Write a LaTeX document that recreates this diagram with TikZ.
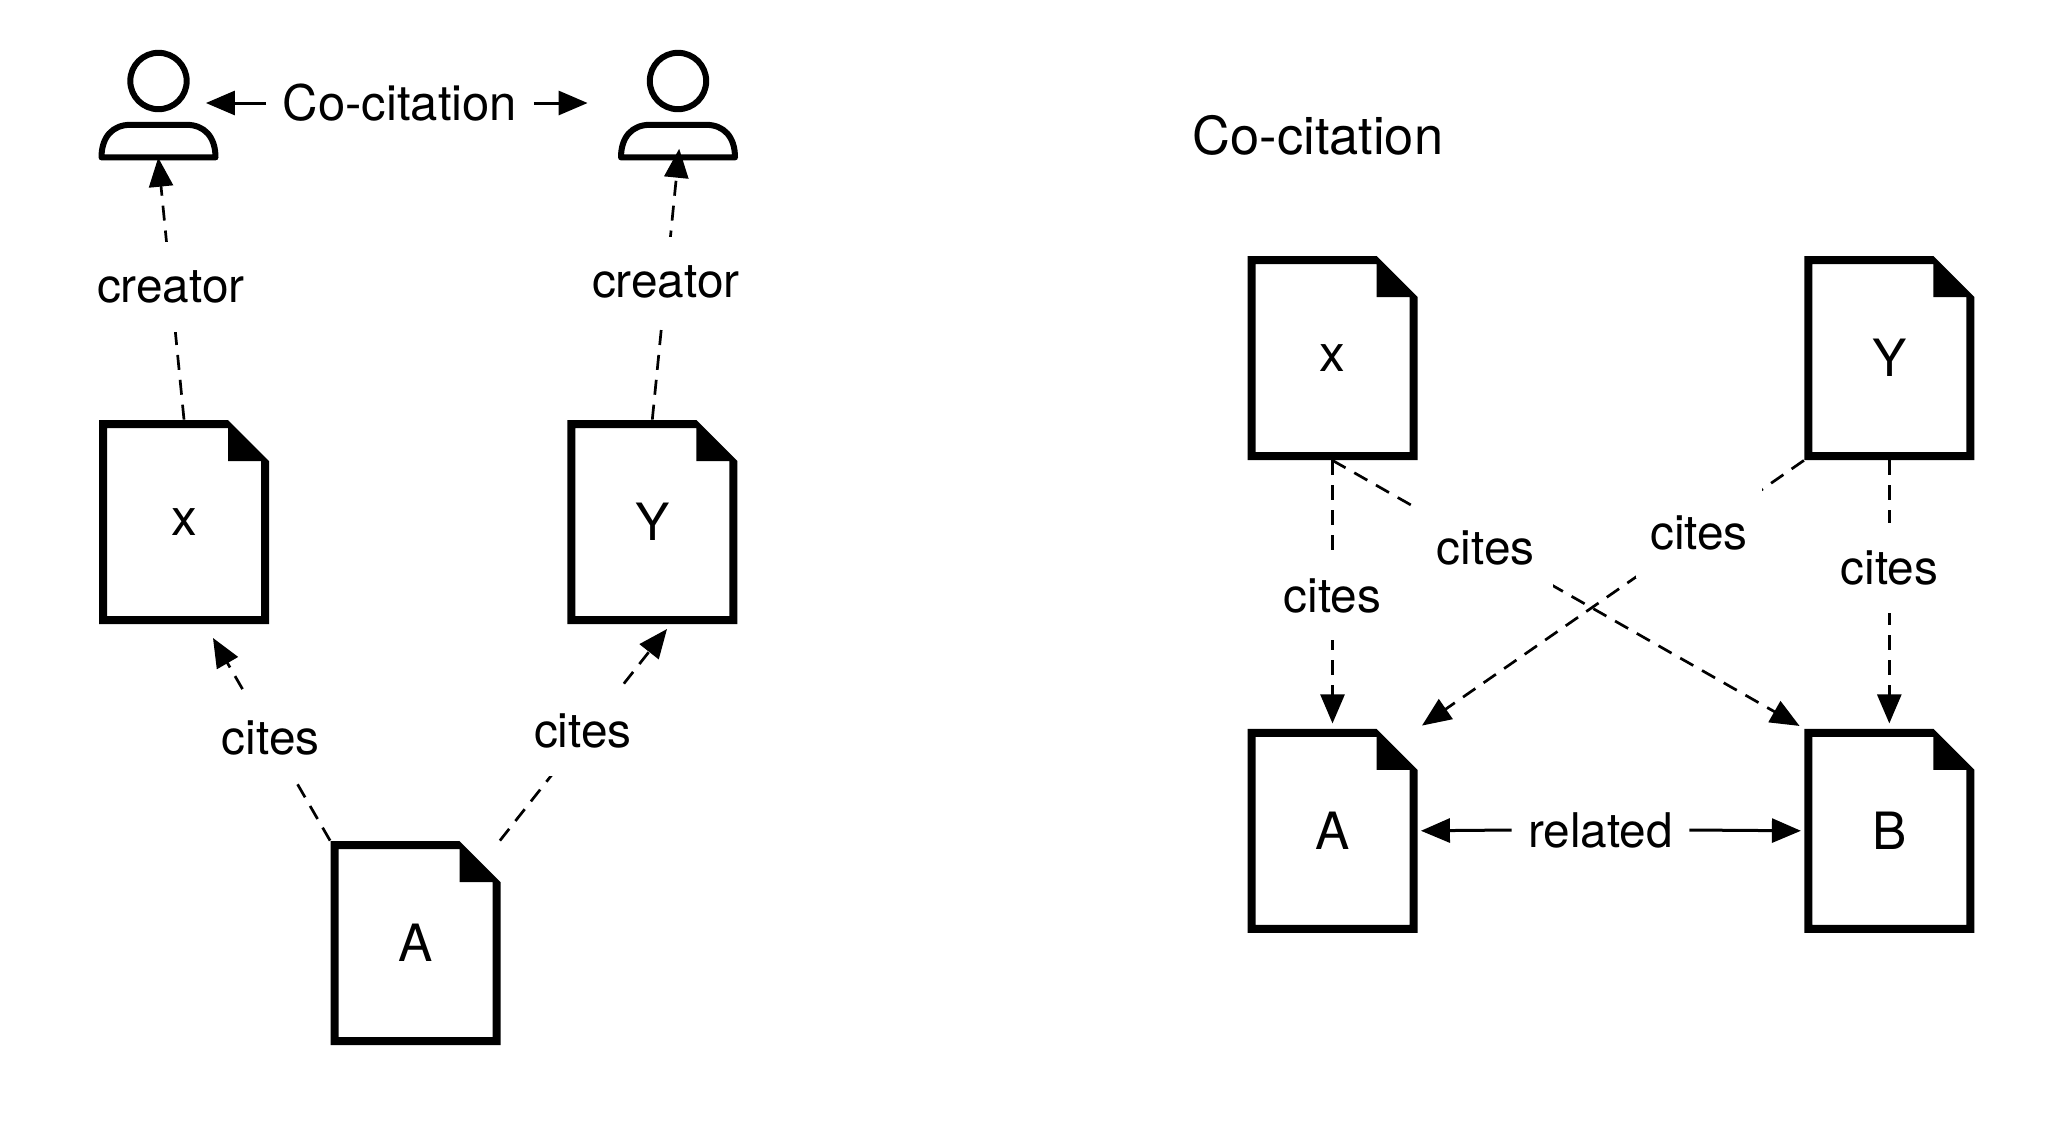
\documentclass[tikz,border=0pt]{standalone}
\usepackage{fontspec}
\setmainfont{TeX Gyre Heros}
\usetikzlibrary{arrows.meta,positioning}
\tikzset{
    %Define standard arrow tip
    >={Triangle[length=14.5pt,width=12pt]},
    %Define style for paper icons
    paper/.style={
           rectangle,
           inner sep=0pt,
           minimum width=85pt,
           minimum height=102pt,
           font=\fontsize{25.7}{28}\selectfont,
           append after command={\pgfextra{
             \fill[black,even odd rule,shift={(\tikzlastnode.center)}]
               (-42.5pt,51pt) -- (22pt,51pt) -- (42.5pt,30.5pt) -- (42.5pt,-51pt) -- (-42.5pt,-51pt) -- cycle
               (-38.5pt,47pt) -- (22pt,47pt) -- (22pt,30.5pt) -- (38.5pt,30.5pt) -- (38.5pt,-47pt) -- (-38.5pt,-47pt) -- cycle;}}},
    %Define style for person icons
    person/.style={
           rectangle,
           inner sep=0pt,
           minimum width=60pt,
           minimum height=55.25pt,
           append after command={\pgfextra{
             \draw[black,line width=3pt,line join=round,shift={(\tikzlastnode.center)}]
               (0pt,12pt) circle (14.1pt)
               (-28.5pt,-26.2pt) .. controls (-28.5pt,-16pt) and (-23pt,-9.9pt) .. (-14pt,-9.9pt)
               -- (14pt,-9.9pt) .. controls (23pt,-9.9pt) and (28.5pt,-16pt) .. (28.5pt,-26.2pt) -- cycle;}}},
    %Define style for edge labels
    tag/.style={
           fill=white,
           inner xsep=0pt,
           inner ysep=0pt,
           minimum height=45pt,
           font=\fontsize{23.9}{28}\selectfont},
    % Define arrow styles
    linkline/.style={
           ->,
           dash pattern=on 7.5pt off 5pt,
           line width=1.35pt},
    solidline/.style={
           ->,
           line width=1.5pt},
}
\begin{document}
\begin{tikzpicture}[x=0.5pt,y=-0.5pt]
 \useasboundingbox (0,0) rectangle (2048,1126);
 %left nodes
    \node[paper] (docx) at (184,522) {x};
    \node[paper,right=148.75pt of docx] (docy) {Y};
    \node[paper] (doca) at (415.5,943) {A};
    \node[person] (usera) at (158.5,105) {};
    \node[person] (userb) at (678,105) {};
    \node[tag,minimum width=133.5pt,font=\fontsize{24.5}{28}\selectfont] (cocite) at (400,103) {Co-citation};
    \coordinate (tipx) at (213,638);
    \coordinate (tipy) at (667,629);
 %left edges
    \draw[linkline,shorten >=-1.5pt] (docx.north) to node[tag,pos=.513] (creatorx) {creator} (usera.south);
    \draw[linkline,shorten >=-6pt] (docy.north) to node[tag,pos=.53] (creatory) {creator} (userb.south);
    \draw[linkline] (doca.north west) to node[tag,pos=.507] (citesx) {cites} (tipx);
    \draw[linkline] ([xshift=-0.5pt]doca.north east) to node[tag,pos=.52,xshift=-2pt] (citesy) {cites} (tipy);
    \draw[solidline,shorten >=-6.5pt] (cocite.west) to (cocite.west -| usera.east);
    \draw[solidline,shorten >=15pt] (cocite.east) to (cocite.east -| userb.west);
 %right nodes
    \node[font=\fontsize{26.2}{30}\selectfont,inner sep=0pt] (title) at (1318,135.5) {Co-citation};
    \node[paper] (refx) at (1332.5,358) {x};
    \node[paper,right=193pt of refx] (refy) {Y};
    \node[paper,below=134pt of refx] (refa) {A};
    \node[paper,below=134pt of refy] (refb) {B};
 %right edges
    \draw[linkline,shorten >=2.5pt] (refx.south) to node[tag,pos=.504] (citesa) {cites} (refa.north);
    \draw[linkline,shorten >=2.5pt] (refx.south) to node[tag,pos=.325,minimum width=67.5pt] (citesb) {cites} (refb.north west);
    \draw[linkline,shorten >=2.5pt] (refy.south west) to node[tag,pos=.272,minimum width=63pt] (citesc) {cites} (refa.north east);
    \draw[linkline,shorten >=2.5pt] (refy.south) to node[tag,pos=.4] (citesd) {cites} (refb.north);
    \node[tag,minimum width=88.5pt] (related) at (1600.5,830) {related};
    \draw[solidline,shorten >=1.5pt] (related.west) to (refa.east);
    \draw[solidline,shorten >=1.5pt] (related.east) to (refb.west);
\end{tikzpicture}
\end{document}
